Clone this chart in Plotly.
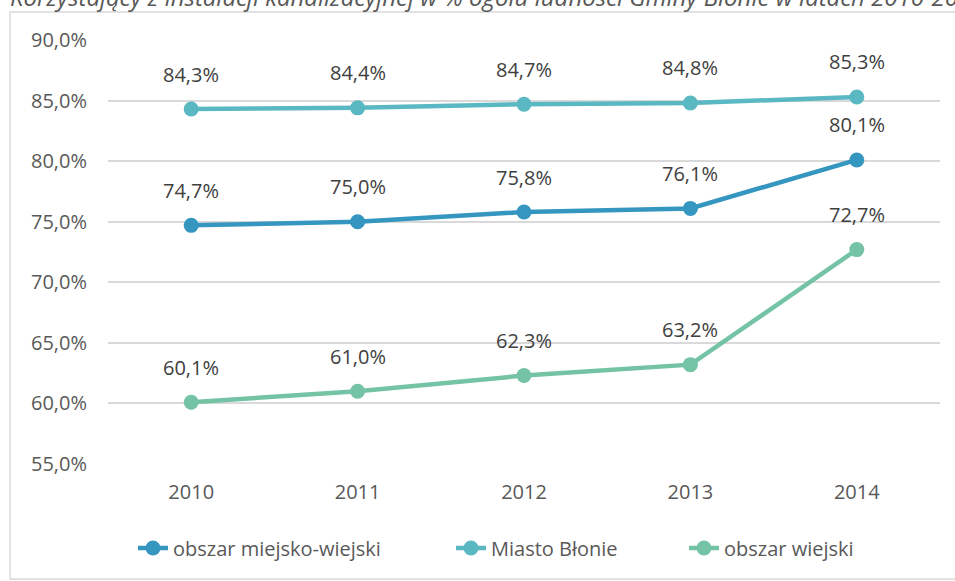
import plotly.graph_objects as go

years = ["2010", "2011", "2012", "2013", "2014"]
miejsko_wiejski = [74.7, 75.0, 75.8, 76.1, 80.1]
miasto_blonie = [84.3, 84.4, 84.7, 84.8, 85.3]
obszar_wiejski = [60.1, 61.0, 62.3, 63.2, 72.7]

series = [
    ("obszar miejsko-wiejski", miejsko_wiejski, "#3596c0", 273),
    ("Miasto Błonie", miasto_blonie, "#5ab8c2", 188),
    ("obszar wiejski", obszar_wiejski, "#74c3a5", None),
]

title_text = "Korzystający z instalacji kanalizacyjnej w % ogółu ludności Gminy Błonie w latach 2010-2014"

FONT = "Open Sans"
TXT = "#595959"

W, H = 955, 581
ML, MR, MT, MB = 108, 15, 40, 117
PW = W - ML - MR
PH = H - MT - MB

fig = go.Figure()
annotations = []
for name, vals, col, lw in series:
    tr = dict(
        x=years, y=vals, name=name, mode="lines+markers",
        line=dict(color=col, width=4.5),
        marker=dict(color=col, size=15),
        hoverinfo="skip",
    )
    if lw:
        tr["legendwidth"] = lw
    fig.add_trace(go.Scatter(**tr))
    for i, yv in enumerate(vals):
        annotations.append(dict(
            x=i, y=yv, xref="x", yref="y",
            text=f"{yv:.1f}%".replace(".", ","),
            showarrow=False, yshift=35,
            font=dict(family=FONT, size=20, color="#404040"),
        ))

def px_to_paper_x(px):
    return (px - ML) / PW

def px_to_paper_y(py):
    return (H - MB - py) / PH

annotations.append(dict(
    x=px_to_paper_x(8), y=px_to_paper_y(15), xref="paper", yref="paper",
    xanchor="left", yanchor="bottom", showarrow=False,
    text="<i>" + title_text + "</i>",
    font=dict(family=FONT, size=24, color=TXT),
))

fig.update_layout(
    width=W, height=H,
    margin=dict(l=ML, r=MR, t=MT, b=MB),
    paper_bgcolor="white", plot_bgcolor="white",
    font=dict(family=FONT, size=20, color=TXT),
    separators=", ",
    showlegend=True,
    legend=dict(orientation="h", x=px_to_paper_x(133), xanchor="left", y=px_to_paper_y(548), yanchor="middle",
                font=dict(family=FONT, size=20, color=TXT), traceorder="normal"),
    annotations=annotations,
    shapes=[dict(type="rect", xref="paper", yref="paper",
                 x0=px_to_paper_x(10), x1=px_to_paper_x(975),
                 y0=px_to_paper_y(579), y1=px_to_paper_y(12),
                 line=dict(color="#d9d9d9", width=1.5), fillcolor="rgba(0,0,0,0)", layer="below")],
)
fig.update_xaxes(type="category", range=[-0.5, 4.5], showgrid=False, showline=False,
                 zeroline=False, ticks="", ticklabelstandoff=14,
                 tickfont=dict(family=FONT, size=20, color=TXT))
fig.update_yaxes(range=[55, 90], dtick=5, tick0=55, showgrid=True, gridcolor="#d9d9d9",
                 gridwidth=1.5, zeroline=False, showline=False, ticks="",
                 ticklabelstandoff=20, tickformat=".1f", ticksuffix="%",
                 tickfont=dict(family=FONT, size=20, color=TXT))

fig.write_html("out.html", config={"displayModeBar": False},
               post_script="document.body.style.margin='0';")
